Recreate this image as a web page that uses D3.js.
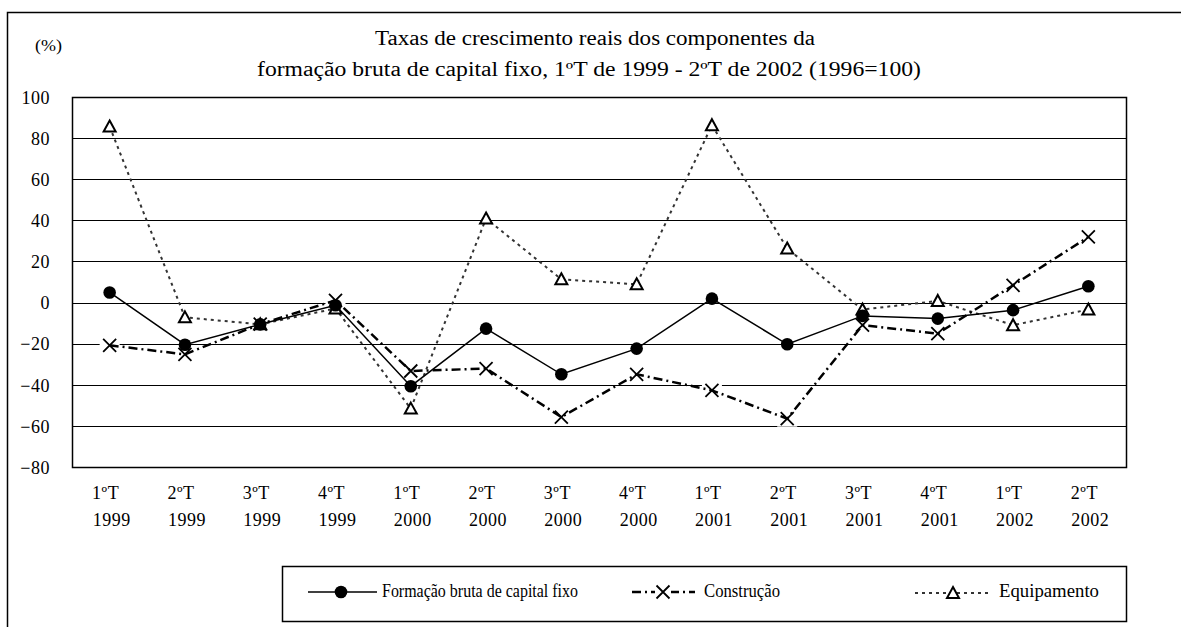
<!DOCTYPE html>
<html>
<head>
<meta charset="utf-8">
<script src="https://cdn.jsdelivr.net/npm/d3@7"></script>
<style>
  html, body { margin: 0; padding: 0; background: #fff; }
  svg { display: block; }
  text { font-family: "Liberation Serif", "Times New Roman", serif; fill: #000; }
</style>
</head>
<body>
<svg id="chart" width="1181" height="627"></svg>
<script>
const quarters = ["1ºT","2ºT","3ºT","4ºT","1ºT","2ºT","3ºT","4ºT","1ºT","2ºT","3ºT","4ºT","1ºT","2ºT"];
const years = ["1999","1999","1999","1999","2000","2000","2000","2000","2001","2001","2001","2001","2002","2002"];
const fbcf = [4.9, -20.5, -10.6, -1.3, -40.7, -12.7, -34.9, -22.4, 1.9, -20.3, -6.5, -7.8, -3.7, 7.9];
const construcao = [-20.8, -25.2, -10.5, 1.1, -33.3, -32.1, -55.7, -34.9, -42.7, -56.5, -11.0, -15.1, 8.4, 31.9];
const equipamento = [85.6, -7.2, -10.6, -2.9, -51.6, 40.9, 11.3, 8.9, 86.3, 26.3, -3.4, 0.8, -11.0, -3.4];
const yTicks = [100, 80, 60, 40, 20, 0, -20, -40, -60, -80];
const titleLines = ["Taxas de crescimento reais dos componentes da",
                    "formação bruta de capital fixo, 1ºT de 1999 - 2ºT de 2002 (1996=100)"];
const unitLabel = "(%)";
const seriesNames = ["Formação bruta de capital fixo", "Construção", "Equipamento"];

const svg = d3.select("#chart");
const keys = d3.range(quarters.length);

// outer frame
svg.append("rect").attr("x", 7.5).attr("y", 12.5).attr("width", 1200).attr("height", 700)
  .attr("fill", "none").attr("stroke", "#000").attr("stroke-width", 1.5);

const plot = {left: 72, right: 1126, top: 97, bottom: 467};
const x = d3.scaleBand().domain(keys).range([plot.left, plot.right]);
const y = d3.scaleLinear().domain([-80, 100]).range([plot.bottom, plot.top]);
const cx = i => x(i) + x.bandwidth() / 2;

// title
svg.append("text").attr("x", 375).attr("y", 45)
  .attr("textLength", 440).attr("lengthAdjust", "spacingAndGlyphs")
  .style("font-size", "20px").text(titleLines[0]);
svg.append("text").attr("x", 257).attr("y", 76)
  .attr("textLength", 664).attr("lengthAdjust", "spacingAndGlyphs")
  .style("font-size", "20px").text(titleLines[1]);
svg.append("text").attr("x", 35).attr("y", 51).attr("textLength", 27).attr("lengthAdjust", "spacingAndGlyphs")
  .style("font-size", "17px").text(unitLabel);

// gridlines
svg.append("g").selectAll("line").data(yTicks.filter(t => t > -80 && t < 100)).join("line")
  .attr("x1", plot.left).attr("x2", plot.right)
  .attr("y1", d => Math.round(y(d)) + 0.5).attr("y2", d => Math.round(y(d)) + 0.5)
  .attr("stroke", "#000").attr("stroke-width", 1.2);

// y axis labels
const yAxis = d3.axisLeft(y).tickValues(yTicks).tickSize(0).tickPadding(0).tickFormat(d3.format("d"));
const yg = svg.append("g").attr("transform", `translate(50,0)`).call(yAxis);
yg.select(".domain").remove();
yg.selectAll("text").style("font-size", "18px").style("font-family", "Liberation Serif")
  .style("letter-spacing", "0.5px").attr("dy", "0.35em");

// x labels
const xl = svg.append("g");
keys.forEach(i => {
  xl.append("text").attr("x", cx(i) - 4).attr("y", 499).attr("text-anchor", "middle")
    .style("font-size", "18px").style("letter-spacing", "0.5px").text(quarters[i]);
  xl.append("text").attr("x", cx(i) + 2).attr("y", 526).attr("text-anchor", "middle")
    .style("font-size", "18px").style("letter-spacing", "0.5px").text(years[i]);
});

// white patches behind X markers (gridline gaps)
svg.append("g").selectAll("rect").data(construcao).join("rect")
  .attr("x", (d, i) => cx(i) - 10).attr("y", d => y(d) - 8).attr("width", 20).attr("height", 16)
  .attr("fill", "#fff");

// plot border
svg.append("rect").attr("x", plot.left + 0.5).attr("y", plot.top + 0.5)
  .attr("width", plot.right - plot.left).attr("height", plot.bottom - plot.top)
  .attr("fill", "none").attr("stroke", "#000").attr("stroke-width", 1.5);

const line = d3.line().x((d, i) => cx(i)).y(d => y(d));

svg.append("path").datum(equipamento).attr("d", line).attr("fill", "none")
  .attr("stroke", "#333").attr("stroke-width", 2).attr("stroke-dasharray", "3,4");
svg.append("path").datum(construcao).attr("d", line).attr("fill", "none")
  .attr("stroke", "#000").attr("stroke-width", 2.5).attr("stroke-dasharray", "9,4,2,4");
svg.append("path").datum(fbcf).attr("d", line).attr("fill", "none")
  .attr("stroke", "#000").attr("stroke-width", 1.5);

// markers
const triPath = "M0,-6L6,5L-6,5Z";
const xPath = "M-6.5,-6.5L6.5,6.5M-6.5,6.5L6.5,-6.5";
svg.append("g").selectAll("path").data(construcao).join("path")
  .attr("transform", (d, i) => `translate(${cx(i)},${y(d)})`).attr("d", xPath)
  .attr("stroke", "#000").attr("stroke-width", 1.8).attr("fill", "none");
svg.append("g").selectAll("path").data(equipamento).join("path")
  .attr("transform", (d, i) => `translate(${cx(i)},${y(d)})`).attr("d", triPath)
  .attr("stroke", "#000").attr("stroke-width", 2).attr("fill", "#fff");
svg.append("g").selectAll("circle").data(fbcf).join("circle")
  .attr("cx", (d, i) => cx(i)).attr("cy", d => y(d)).attr("r", 6.3).attr("fill", "#000");

// legend
const lg = svg.append("g");
lg.append("rect").attr("x", 282.5).attr("y", 566.5).attr("width", 844).attr("height", 55)
  .attr("fill", "#fff").attr("stroke", "#000").attr("stroke-width", 1.5);
const ly = 592;
lg.append("line").attr("x1", 308).attr("x2", 377).attr("y1", ly).attr("y2", ly)
  .attr("stroke", "#000").attr("stroke-width", 1.5);
lg.append("circle").attr("cx", 341).attr("cy", ly).attr("r", 6.3).attr("fill", "#000");
lg.append("text").attr("x", 382).attr("y", 597).attr("textLength", 196).attr("lengthAdjust", "spacingAndGlyphs")
  .style("font-size", "18px").text(seriesNames[0]);

lg.append("line").attr("x1", 632).attr("x2", 695).attr("y1", ly).attr("y2", ly)
  .attr("stroke", "#000").attr("stroke-width", 2.5).attr("stroke-dasharray", "9,4,2,4");
lg.append("rect").attr("x", 655).attr("y", ly - 8).attr("width", 16).attr("height", 16).attr("fill", "#fff");
lg.append("path").attr("transform", `translate(663,${ly})`).attr("d", xPath)
  .attr("stroke", "#000").attr("stroke-width", 1.8).attr("fill", "none");
lg.append("text").attr("x", 704).attr("y", 597).attr("textLength", 76).attr("lengthAdjust", "spacingAndGlyphs")
  .style("font-size", "18px").text(seriesNames[1]);

lg.append("line").attr("x1", 915).attr("x2", 992).attr("y1", ly + 1).attr("y2", ly + 1)
  .attr("stroke", "#333").attr("stroke-width", 2).attr("stroke-dasharray", "3,4");
lg.append("path").attr("transform", `translate(953,${ly + 1})`).attr("d", triPath)
  .attr("stroke", "#000").attr("stroke-width", 2).attr("fill", "#fff");
lg.append("text").attr("x", 999).attr("y", 597).attr("textLength", 100).attr("lengthAdjust", "spacingAndGlyphs")
  .style("font-size", "18px").text(seriesNames[2]);
</script>
</body>
</html>
